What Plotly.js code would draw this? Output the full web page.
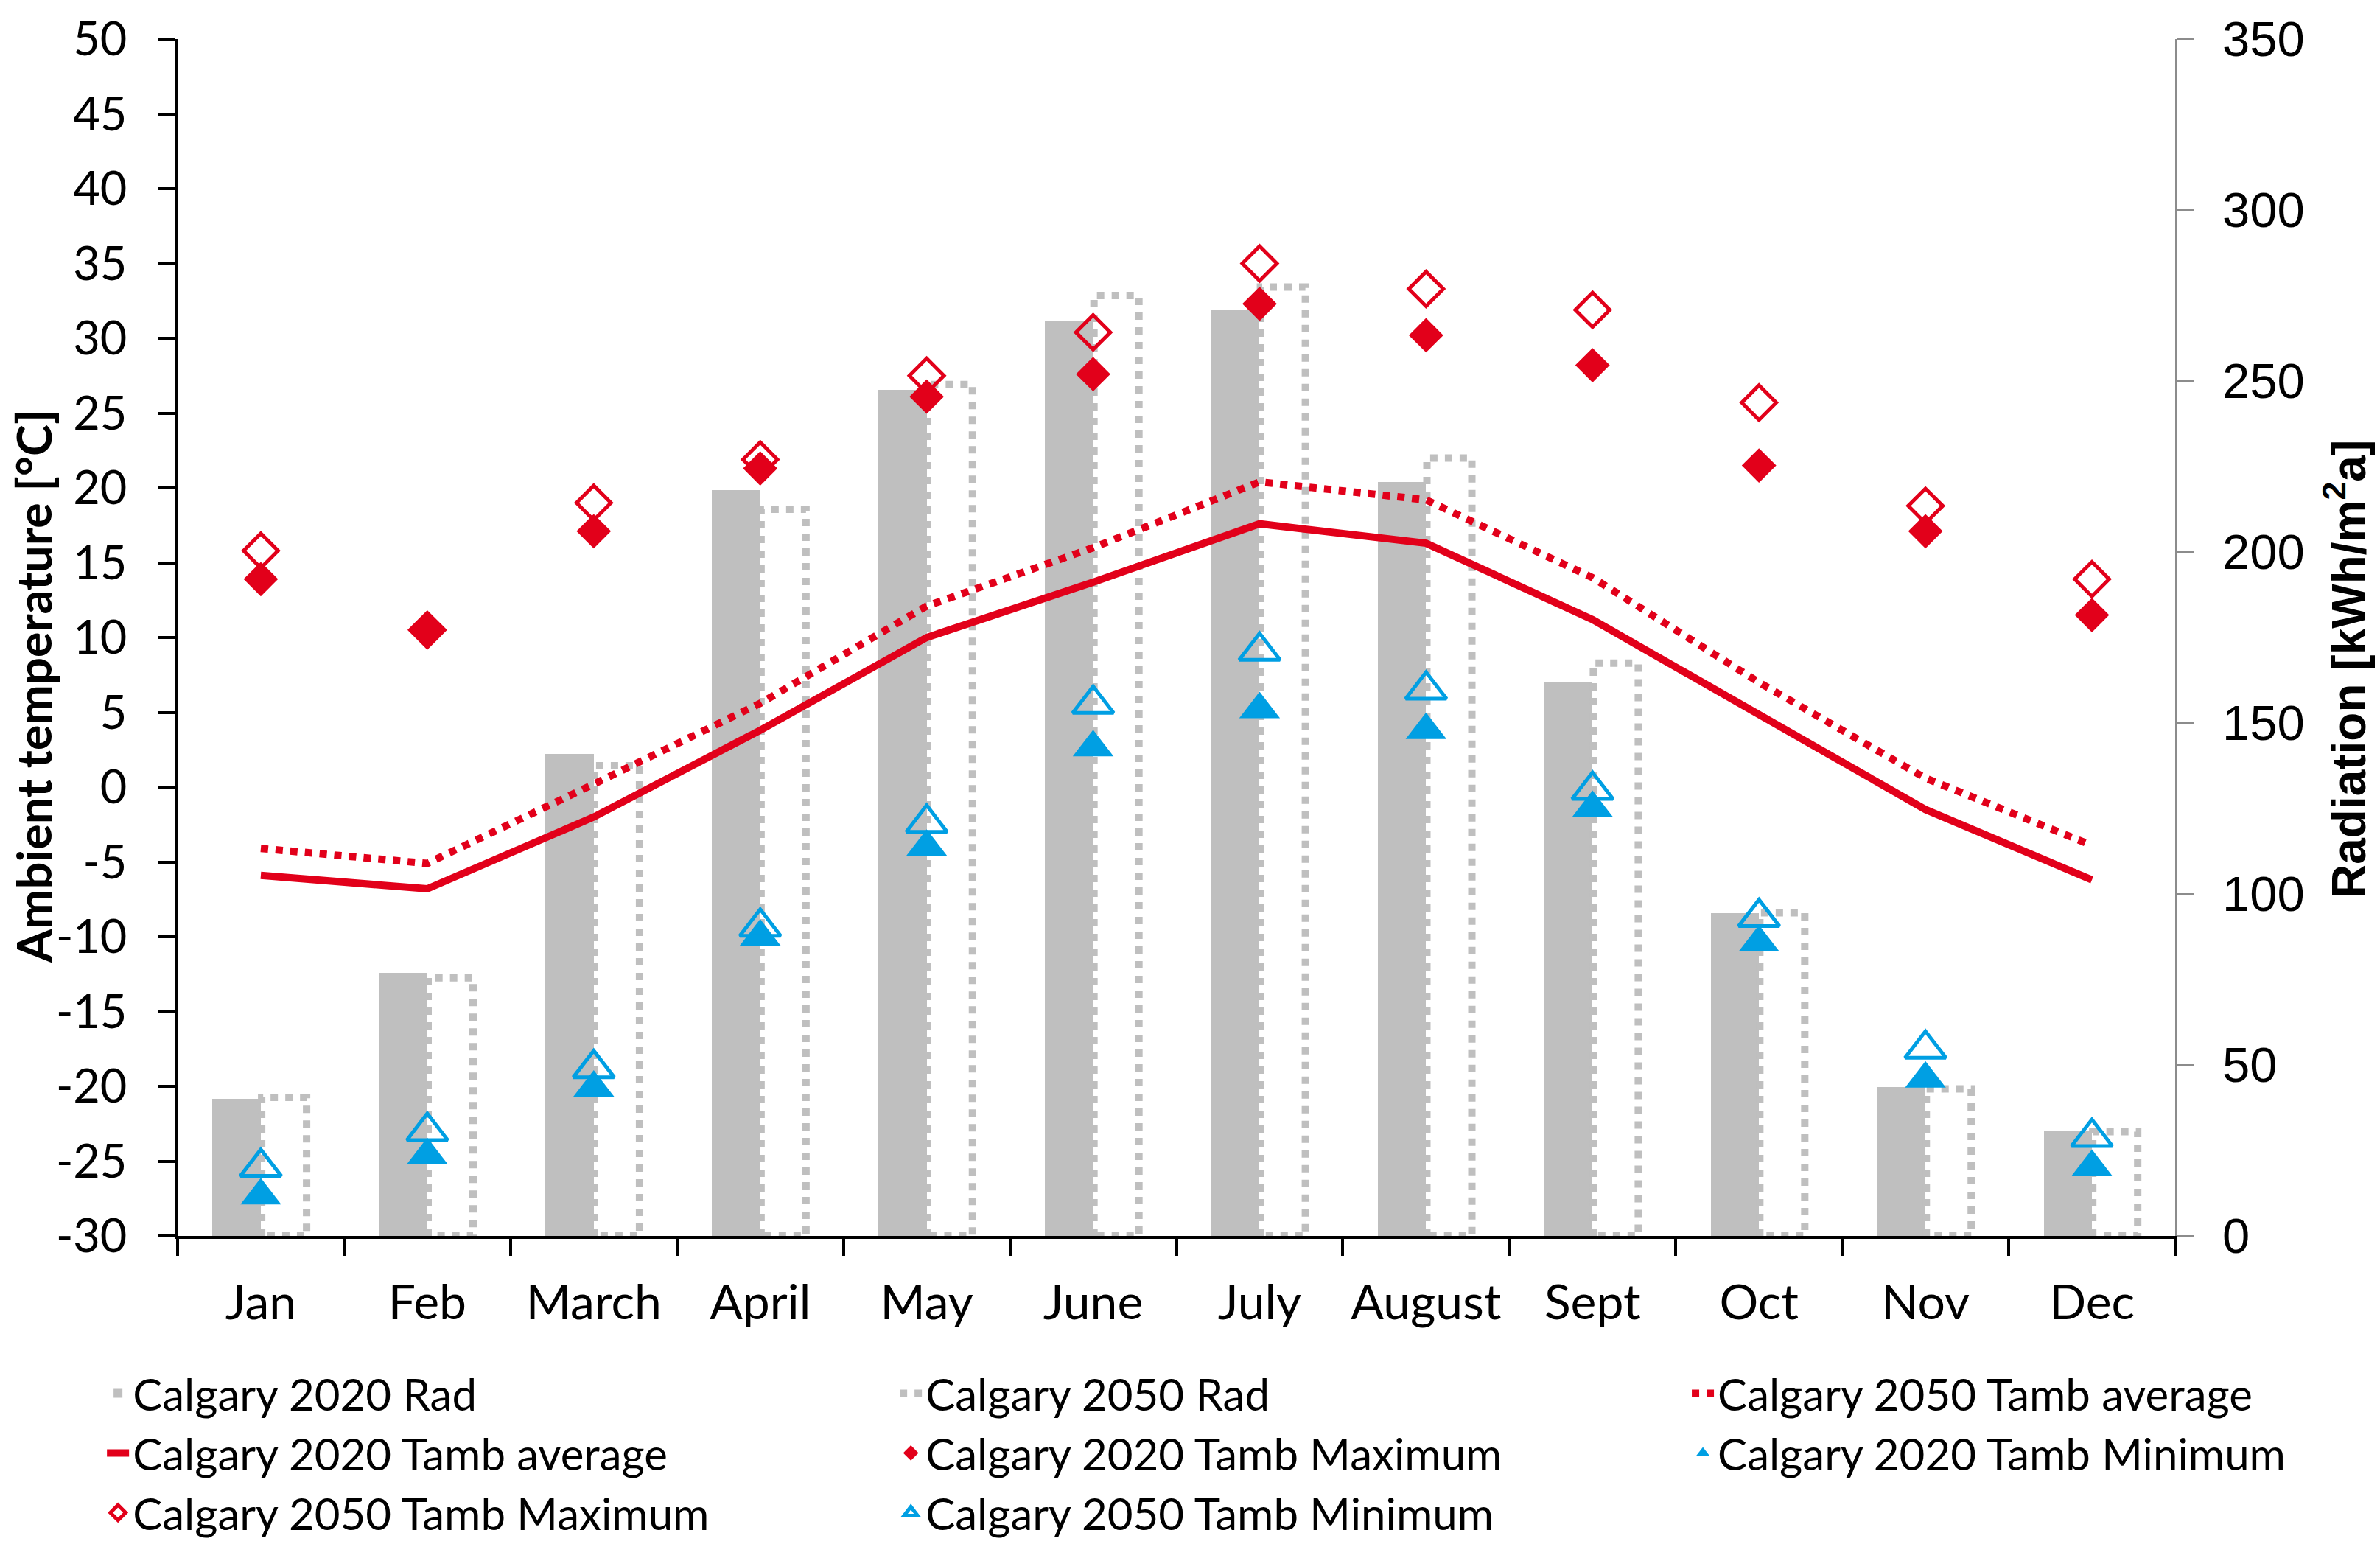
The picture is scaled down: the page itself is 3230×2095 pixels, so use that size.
<!DOCTYPE html>
<html>
<head>
<meta charset="utf-8">
<script src="https://cdn.plot.ly/plotly-3.0.1.min.js"></script>
<style>html,body{margin:0;padding:0;background:#fff;}#chart{width:3230px;height:2095px;}</style>
</head>
<body>
<div id="chart"></div>
<script>
// ---- data ----
const months = ['Jan','Feb','March','April','May','June','July','August','Sept','Oct','Nov','Dec'];
const rad2020 = [40, 77, 141, 218, 247.5, 267.5, 271, 220.5, 162, 94.5, 43.5, 30.5];
const rad2050 = [40.5, 75.5, 137.5, 212.5, 249, 275, 277.5, 227.5, 167.5, 94.5, 43, 30.5];
const avg2020 = [-5.9, -6.8, -2.0, 3.8, 10.0, 13.7, 17.6, 16.3, 11.2, 4.8, -1.5, -6.2];
const avg2050 = [-4.1, -5.1, 0.2, 5.6, 12.1, 16.0, 20.4, 19.2, 14.0, 7.0, 0.6, -3.9];
const max2020 = [13.9, 10.5, 17.1, 21.3, 26.1, 27.6, 32.3, 30.2, 28.2, 21.5, 17.1, 11.5];
const min2020 = [-27.3, -24.6, -20.1, -10.0, -4.0, 2.65, 5.2, 3.8, -1.4, -10.4, -19.5, -25.4];
const max2050 = [15.8, 10.5, 19.0, 21.9, 27.5, 30.4, 35.0, 33.3, 31.9, 25.7, 18.8, 13.9];
const min2050 = [-25.4, -23.0, -18.8, -9.35, -2.4, 5.55, 9.1, 6.5, -0.2, -8.7, -17.5, -23.4];
const tempTicks = [-30,-25,-20,-15,-10,-5,0,5,10,15,20,25,30,35,40,45,50];
const radTicks = [0,50,100,150,200,250,300,350];
const leftTitle = 'Ambient temperature [°C]';
const rightTitle = 'Radiation [kWh/m<sup>2</sup>a]';

// ---- styles ----
const RED = '#E2001A', BLUE = '#009FE3', GREY = '#BFBFBF';
const LATO = 'Lato, Carlito, "Liberation Sans", sans-serif';
const ARIAL = '"Liberation Sans", Arial, sans-serif';
const idx = months.map((_, i) => i);
const BW = 0.29;

// dotted outline bars for 2050 radiation (built from the data array)
const ox = [], oy = [];
rad2050.forEach((v, i) => {
  const a = i + 0.005, b = i + 0.275;
  ox.push(a, a, b, b, a, null);
  oy.push(0, v, v, 0, 0, null);
});

// radiation -> main axis 'y' (right side, drawn below); temperature -> 'y2' (left side, overlay on top)
const traces = [
  {type:'bar', name:'Calgary 2020 Rad', x:idx, y:rad2020, yaxis:'y', offset:-BW, width:BW,
   marker:{color:GREY, line:{width:0}}, legend:'legend'},
  {type:'scatter', mode:'lines', name:'Calgary 2050 Rad', x:ox, y:oy, yaxis:'y', connectgaps:false,
   line:{color:GREY, width:10, dash:'dot'}, legend:'legend2'},
  {type:'scatter', mode:'lines', name:'Calgary 2050 Tamb average', x:idx, y:avg2050, yaxis:'y2',
   line:{color:RED, width:10, dash:'dot'}, legend:'legend3'},
  {type:'scatter', mode:'lines', name:'Calgary 2020 Tamb average', x:idx, y:avg2020, yaxis:'y2',
   line:{color:RED, width:10}, legend:'legend'},
  {type:'scatter', mode:'markers', name:'Calgary 2020 Tamb Maximum', x:idx, y:max2020, yaxis:'y2',
   marker:{symbol:'diamond', size:36, color:RED}, legend:'legend2'},
  {type:'scatter', mode:'markers', name:'Calgary 2020 Tamb Minimum', x:idx, y:min2020, yaxis:'y2',
   marker:{symbol:'triangle-up', size:48, color:BLUE}, legend:'legend3'},
  {type:'scatter', mode:'markers', name:'Calgary 2050 Tamb Maximum', x:idx, y:max2050, yaxis:'y2',
   marker:{symbol:'diamond-open', size:36, color:RED, line:{width:5, color:RED}}, legend:'legend'},
  {type:'scatter', mode:'markers', name:'Calgary 2050 Tamb Minimum', x:idx, y:min2050, yaxis:'y2',
   marker:{symbol:'triangle-up-open', size:48, color:BLUE, line:{width:5, color:BLUE}}, legend:'legend2'}
];

const legendBase = {
  orientation:'v', yanchor:'top', xanchor:'left', y:-0.1034,
  font:{family:LATO, size:60, color:'#000'}, bgcolor:'rgba(0,0,0,0)', borderwidth:0,
  tracegroupgap:0, traceorder:'normal'
};

const layout = {
  width:3230, height:2095,
  margin:{l:241, r:278, t:53, b:418, pad:0, autoexpand:false},
  paper_bgcolor:'#fff', plot_bgcolor:'#fff',
  showlegend:true,
  bargap:0,
  xaxis:{
    range:[-0.5, 11.5], tickmode:'array', tickvals:idx, ticktext:months, ticks:'',
    showline:true, linecolor:'#000', linewidth:4, showgrid:false, zeroline:false,
    tickfont:{family:LATO, size:66, color:'#000'}, ticklabelstandoff:30,
    minor:{tick0:0.5, dtick:1, ticks:'outside', ticklen:23, tickwidth:4, tickcolor:'#000', showgrid:false}
  },
  yaxis:{
    side:'right', range:[0, 350], tickmode:'array', tickvals:radTicks, ticktext:radTicks.map(String),
    ticks:'outside', ticklen:23, tickwidth:2.5, tickcolor:'#8C8C8C',
    showline:true, linecolor:'#8C8C8C', linewidth:2.5, showgrid:false, zeroline:false,
    tickfont:{family:ARIAL, size:67, color:'#000'}, ticklabelstandoff:25
  },
  yaxis2:{
    overlaying:'y', side:'left', range:[-30, 50], tickmode:'array', tickvals:tempTicks, ticktext:tempTicks.map(String),
    ticks:'outside', ticklen:22, tickwidth:4, tickcolor:'#000',
    showline:true, linecolor:'#000', linewidth:4, showgrid:false, zeroline:false,
    tickfont:{family:LATO, size:63, color:'#000'}, ticklabelstandoff:30
  },
  annotations:[
    {text:leftTitle, xref:'paper', yref:'paper', x:-0.0723, y:0.4594, xanchor:'center', yanchor:'middle',
     textangle:-90, showarrow:false, font:{family:LATO, size:65, color:'#000', weight:'bold'}},
    {text:rightTitle, xref:'paper', yref:'paper', x:1.0852, y:0.4735, xanchor:'center', yanchor:'middle',
     textangle:-90, showarrow:false, font:{family:ARIAL, size:64, color:'#000', weight:'bold'}}
  ],
  legend:Object.assign({}, legendBase, {x:-0.0372}),
  legend2:Object.assign({}, legendBase, {x:0.3597}),
  legend3:Object.assign({}, legendBase, {x:0.7562})
};

Plotly.newPlot('chart', traces, layout, {displayModeBar:false, staticPlot:true});
</script>
</body>
</html>
